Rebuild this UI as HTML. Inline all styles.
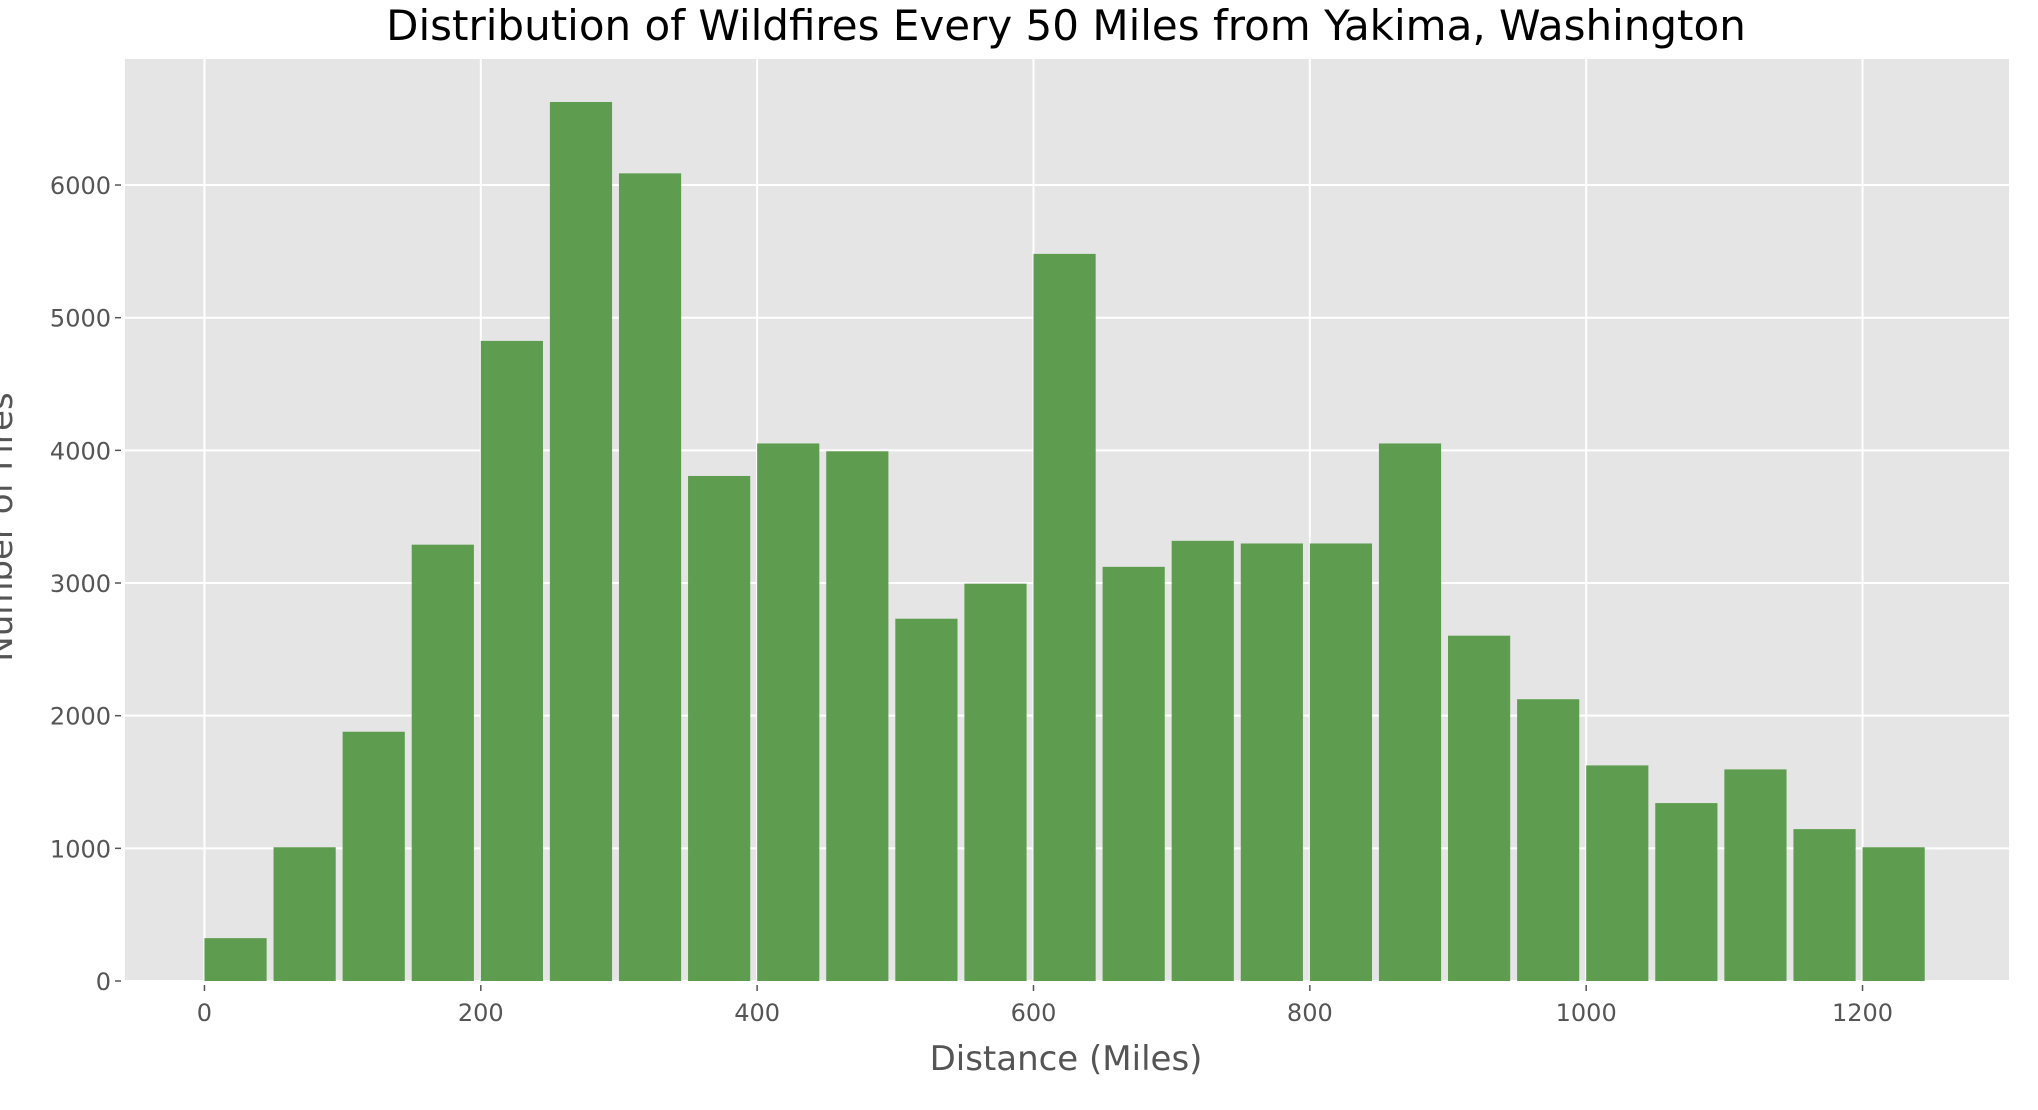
<!DOCTYPE html>
<html><head><meta charset="utf-8"><style>
html,body{margin:0;padding:0;background:#fff;}
svg{display:block;font-family:"DejaVu Sans","Liberation Sans",sans-serif;}
</style></head><body>
<svg id="chart" width="2038" height="1110" viewBox="0 0 2038 1110" xmlns="http://www.w3.org/2000/svg">
<text x="1066" y="40" font-size="42" text-anchor="middle" fill="#000">Distribution of Wildfires Every 50 Miles from Yakima, Washington</text>
<rect x="125" y="59" width="1884" height="922" fill="#e5e5e5"/>
<g id="grid"></g>
<g id="bars"></g>
<g id="axes"></g>
<text x="1066" y="1070" font-size="34" text-anchor="middle" fill="#555">Distance (Miles)</text>
<text transform="translate(12,527) rotate(-90)" font-size="34" text-anchor="middle" fill="#555">Number of Fires</text>
</svg>
<script>
const binStarts = [0,50,100,150,200,250,300,350,400,450,500,550,600,650,700,750,800,850,900,950,1000,1050,1100,1150,1200];
const fireCounts = [323,1008,1879,3289,4825,6626,6088,3807,4052,3993,2731,2995,5481,3122,3318,3298,3298,4052,2603,2124,1625,1341,1595,1145,1008];
const xTicks = [0,200,400,600,800,1000,1200];
const yTicks = [0,1000,2000,3000,4000,5000,6000];
const barWidth = 45;

const NS = 'http://www.w3.org/2000/svg';
const L=125,R=2009,T=59,B=981;
const xMin=-57.5,xMax=1306,yMin=0,yMax=6950;
const xs=v=>L+(v-xMin)/(xMax-xMin)*(R-L);
const ys=v=>B-(v-yMin)/(yMax-yMin)*(B-T);
function mk(tag,attrs,parent){const e=document.createElementNS(NS,tag);for(const k in attrs)e.setAttribute(k,attrs[k]);parent.appendChild(e);return e;}
const grid=document.getElementById('grid'),bars=document.getElementById('bars'),axes=document.getElementById('axes');
xTicks.forEach(t=>{
  const x=xs(t);
  const g=mk('line',{x1:x,x2:x,y1:T,y2:B,stroke:'#fff','stroke-width':2},grid);
  
  
  const tk=mk('line',{x1:x,x2:x,y1:B+4,y2:B+10,stroke:'#555','stroke-width':1.5},axes);
  
  
  const lb=mk('text',{x:x,y:B+40,'font-size':24,'text-anchor':'middle',fill:'#555'},axes);
  lb.textContent=t;
  
  
});
yTicks.forEach(t=>{
  const y=ys(t);
  const g=mk('line',{x1:L,x2:R,y1:y,y2:y,stroke:'#fff','stroke-width':2},grid);
  
  
  const tk=mk('line',{x1:L-10,x2:L-4,y1:y,y2:y,stroke:'#555','stroke-width':1.5},axes);
  
  
  const lb=mk('text',{x:L-14,y:y+9,'font-size':24,'text-anchor':'end',fill:'#555'},axes);
  lb.textContent=t;
  
  
});
binStarts.forEach((s,i)=>{
  const x0=xs(s),x1=xs(s+barWidth),y=ys(fireCounts[i]);
  const r=mk('rect',{x:x0,y:y,width:x1-x0,height:B-y,fill:'#5e9c4f'},bars);
  
  
});
</script>
</body></html>
